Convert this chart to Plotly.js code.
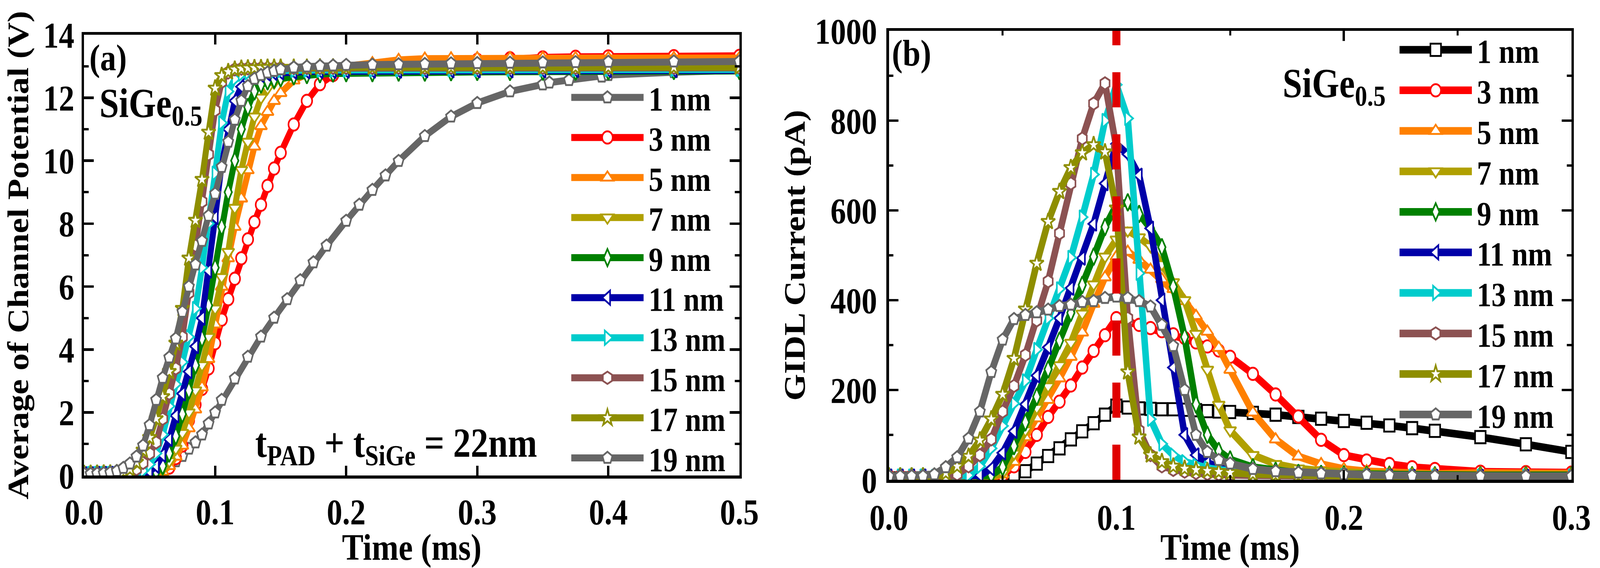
<!DOCTYPE html>
<html>
<head>
<meta charset="utf-8">
<script src="https://cdn.plot.ly/plotly-3.0.1.min.js"></script>
<style>
  html, body { margin: 0; padding: 0; background: #fff; width: 100%; height: 100%; overflow: hidden; }
  /* the chart is laid out small and blown up to the window, a bit narrower in x like the original */
  #wrap { position: absolute; left: 0; top: 0; width: 1593px; height: 485px; transform-origin: 0 0; }
</style>
</head>
<body>
<div id="wrap"><div id="chart"></div></div>
<script>
// ---- data (a): average channel potential (V) vs time (ms) ----
const timeA = [0, 0.005, 0.01, 0.015, 0.02, 0.025, 0.03, 0.035, 0.04, 0.045,
  0.05, 0.055, 0.06, 0.065, 0.07, 0.075, 0.08, 0.085, 0.09, 0.095,
  0.1, 0.105, 0.11, 0.115, 0.12, 0.125, 0.13, 0.135, 0.14, 0.145,
  0.15, 0.16, 0.17, 0.18, 0.19, 0.2, 0.22, 0.24, 0.26, 0.28,
  0.3, 0.325, 0.35, 0.375, 0.4, 0.45, 0.5];
const time1nmA = [0, 0.01, 0.02, 0.03, 0.04, 0.045, 0.05, 0.055, 0.06, 0.065,
  0.07, 0.075, 0.08, 0.085, 0.09, 0.095, 0.1, 0.105, 0.115, 0.125,
  0.135, 0.145, 0.155, 0.165, 0.175, 0.185, 0.2, 0.21, 0.22, 0.23,
  0.24, 0.26, 0.28, 0.3, 0.325, 0.35, 0.355, 0.37, 0.395, 0.4,
  0.45, 0.5];

const potential1 = [0.05, 0.05, 0.05, 0.06, 0.08, 0.1, 0.13, 0.17, 0.22, 0.32,
  0.45, 0.62, 0.85, 1.05, 1.3, 1.65, 2.0, 2.4, 3.08, 3.77,
  4.41, 5.01, 5.6, 6.2, 6.77, 7.3, 8.09, 8.6, 9.07, 9.53,
  9.99, 10.78, 11.4, 11.83, 12.2, 12.42, 12.48, 12.56, 12.67, 12.72,
  12.81, 12.87];
const potential3 = [0.05, 0.05, 0.05, 0.05, 0.05, 0.05, 0.05, 0.05, 0.05, 0.05,
  0.05, 0.06, 0.1, 0.25, 0.55, 0.95, 1.75, 2.25, 2.75, 3.4,
  4.2, 4.95, 5.6, 6.25, 6.9, 7.5, 8.05, 8.6, 9.2, 9.75,
  10.25, 11.15, 11.9, 12.43, 12.72, 12.85, 12.95, 13.0, 13.08, 13.15,
  13.2, 13.25, 13.28, 13.3, 13.31, 13.32, 13.33];
const potential5 = [0.05, 0.05, 0.06, 0.06, 0.06, 0.06, 0.06, 0.06, 0.06, 0.06,
  0.06, 0.07, 0.12, 0.3, 0.6, 0.95, 1.5, 2.1, 2.8, 3.7,
  4.8, 6.0, 6.9, 7.9, 8.8, 9.7, 10.45, 11.1, 11.55, 11.9,
  12.15, 12.55, 12.75, 12.88, 12.95, 13.0, 13.1, 13.2, 13.24, 13.25,
  13.26, 13.26, 13.26, 13.26, 13.26, 13.26, 13.26];
const potential7 = [0.05, 0.05, 0.06, 0.06, 0.06, 0.06, 0.06, 0.06, 0.06, 0.06,
  0.06, 0.08, 0.2, 0.45, 0.85, 1.35, 2.0, 2.7, 3.5, 4.4,
  5.3, 6.3, 7.1, 8.5, 9.7, 10.6, 11.4, 12.0, 12.3, 12.48,
  12.58, 12.7, 12.78, 12.84, 12.88, 12.9, 12.92, 12.93, 12.93, 12.94,
  12.94, 12.94, 12.95, 12.95, 12.95, 12.95, 12.95];
const potential9 = [0.05, 0.05, 0.06, 0.06, 0.06, 0.06, 0.06, 0.06, 0.06, 0.06,
  0.06, 0.12, 0.3, 0.7, 1.25, 1.95, 2.7, 3.5, 4.35, 5.4,
  6.6, 7.9, 9.0, 10.0, 11.0, 11.7, 12.2, 12.42, 12.52, 12.57,
  12.62, 12.68, 12.72, 12.75, 12.77, 12.78, 12.78, 12.8, 12.8, 12.81,
  12.82, 12.82, 12.83, 12.83, 12.84, 12.85, 12.85];
const potential11 = [0.05, 0.05, 0.06, 0.06, 0.06, 0.06, 0.06, 0.06, 0.07, 0.08,
  0.12, 0.3, 0.65, 1.15, 1.9, 2.6, 3.3, 4.1, 5.0, 6.5,
  8.2, 9.9, 11.0, 11.9, 12.35, 12.55, 12.65, 12.72, 12.76, 12.78,
  12.8, 12.82, 12.83, 12.84, 12.84, 12.85, 12.85, 12.85, 12.86, 12.86,
  12.86, 12.86, 12.86, 12.87, 12.87, 12.87, 12.87];
const potential13 = [0.05, 0.06, 0.06, 0.06, 0.06, 0.06, 0.07, 0.08, 0.1, 0.15,
  0.35, 0.7, 1.3, 2.2, 2.9, 3.6, 4.4, 5.3, 6.6, 8.0,
  9.6, 11.2, 12.2, 12.6, 12.75, 12.8, 12.83, 12.85, 12.86, 12.86,
  12.87, 12.87, 12.88, 12.88, 12.88, 12.88, 12.88, 12.89, 12.89, 12.89,
  12.89, 12.9, 12.9, 12.9, 12.9, 12.9, 12.9];
const potential15 = [0.05, 0.06, 0.06, 0.06, 0.07, 0.07, 0.08, 0.1, 0.2, 0.4,
  0.7, 1.05, 1.8, 2.6, 3.4, 4.4, 5.8, 7.3, 8.7, 10.2,
  11.6, 12.5, 12.8, 12.9, 12.92, 12.93, 12.93, 12.94, 12.94, 12.94,
  12.94, 12.95, 12.95, 12.95, 12.95, 12.95, 12.95, 12.95, 12.95, 12.95,
  12.95, 12.95, 12.95, 12.95, 12.95, 12.95, 12.95];
const potential17 = [0.05, 0.06, 0.06, 0.07, 0.07, 0.08, 0.12, 0.2, 0.42, 0.8,
  1.2, 1.8, 2.5, 3.3, 4.2, 5.3, 6.9, 8.1, 9.4, 10.9,
  12.3, 12.7, 12.82, 12.9, 12.93, 12.94, 12.95, 12.95, 12.96, 12.96,
  12.96, 12.96, 12.96, 12.97, 12.97, 12.97, 12.97, 12.97, 12.97, 12.97,
  12.97, 12.97, 12.97, 12.97, 12.97, 12.97, 12.97];
const potential19 = [0.05, 0.05, 0.06, 0.07, 0.09, 0.14, 0.24, 0.38, 0.6, 0.95,
  1.6, 2.4, 3.1, 3.75, 4.35, 5.2, 6.0, 6.7, 7.45, 8.25,
  8.95, 9.8, 10.6, 11.3, 11.9, 12.37, 12.6, 12.72, 12.8, 12.85,
  12.9, 12.96, 12.99, 13.01, 13.02, 13.04, 13.05, 13.06, 13.07, 13.09,
  13.1, 13.11, 13.12, 13.13, 13.14, 13.15, 13.15];

// ---- data (b): GIDL current (pA) vs time (ms) ----
const timeB = [0, 0.005, 0.01, 0.015, 0.02, 0.025, 0.03, 0.035, 0.04, 0.045,
  0.05, 0.055, 0.06, 0.065, 0.07, 0.075, 0.08, 0.085, 0.09, 0.095,
  0.1, 0.105, 0.11, 0.115, 0.12, 0.125, 0.13, 0.135, 0.14, 0.145,
  0.15, 0.16, 0.17, 0.18, 0.19, 0.2, 0.21, 0.22, 0.23, 0.24,
  0.26, 0.28, 0.3];

const current1 = [3, 3, 3, 3, 3, 3, 3, 3, 3, 4,
  7, 12, 19, 36, 53, 70, 90, 108, 126, 145,
  165, 161, 159, 158, 157, 157, 156, 155, 153, 152,
  151, 149, 145, 140, 136, 131, 127, 121, 115, 109,
  95, 79, 62];
const current3 = [8, 8, 8, 7, 7, 7, 7, 7, 7, 7,
  10, 30, 62, 100, 140, 174, 210, 250, 287, 322,
  360, 352, 345, 338, 331, 324, 316, 306, 297, 288,
  274, 236, 190, 141, 89, 55, 43, 35, 28, 24,
  18, 17, 16];
const current5 = [8, 8, 8, 8, 7, 7, 7, 7, 7, 7,
  12, 40, 95, 137, 178, 226, 274, 328, 392, 451,
  497, 508, 490, 468, 447, 425, 398, 365, 330, 294,
  245, 150, 90, 52, 35, 24, 19, 16, 14, 13,
  15, 15, 14];
const current7 = [8, 8, 8, 8, 7, 7, 7, 7, 7, 8,
  15, 58, 110, 160, 208, 255, 305, 370, 435, 497,
  535, 555, 540, 520, 480, 440, 400, 325, 245, 167,
  110, 55, 35, 25, 20, 16, 14, 12, 11, 10,
  9, 8, 8];
const current9 = [8, 8, 8, 8, 7, 7, 7, 7, 7, 10,
  28, 75, 128, 185, 246, 310, 372, 434, 497, 563,
  612, 618, 592, 560, 518, 430, 318, 168, 100, 64,
  45, 28, 20, 15, 13, 12, 11, 11, 10, 10,
  10, 10, 10];
const current11 = [8, 8, 8, 8, 7, 7, 7, 7, 10, 25,
  60, 108, 168, 232, 295, 360, 427, 494, 570, 660,
  748, 725, 678, 560, 400, 250, 100, 55, 38, 28,
  22, 16, 12, 10, 9, 8, 8, 7, 7, 7,
  7, 7, 7];
const current13 = [8, 8, 8, 8, 7, 7, 7, 10, 30, 70,
  120, 170, 220, 290, 360, 425, 495, 585, 680, 800,
  880, 805, 460, 135, 80, 55, 40, 32, 26, 22,
  19, 15, 12, 10, 9, 9, 8, 8, 8, 8,
  8, 8, 8];
const current15 = [8, 8, 8, 8, 7, 7, 12, 30, 55, 90,
  152, 209, 278, 355, 442, 549, 660, 760, 838, 883,
  740, 360, 110, 55, 30, 22, 18, 15, 13, 12,
  11, 10, 9, 9, 8, 8, 8, 8, 8, 8,
  8, 8, 8];
const current17 = [8, 8, 8, 8, 7, 15, 30, 52, 88, 135,
  190, 270, 380, 482, 575, 642, 695, 728, 746, 730,
  605, 240, 95, 55, 40, 30, 25, 22, 20, 18,
  16, 13, 11, 10, 9, 9, 8, 8, 8, 8,
  8, 8, 8];
const current19 = [8, 8, 8, 8, 12, 28, 50, 92, 152, 240,
  312, 358, 367, 373, 379, 387, 390, 396, 398, 405,
  408, 405, 398, 386, 345, 298, 200, 100, 62, 44,
  36, 24, 19, 16, 14, 12, 11, 10, 9, 8,
  8, 8, 8];

const padLabels = ['1 nm', '3 nm', '5 nm', '7 nm', '9 nm', '11 nm', '13 nm', '15 nm', '17 nm', '19 nm'];
const pulseEnd = 0.1; // ms, dashed marker in (b)

const potentials = [potential1, potential3, potential5, potential7, potential9,
  potential11, potential13, potential15, potential17, potential19];
const currents = [current1, current3, current5, current7, current9,
  current11, current13, current15, current17, current19];

// ---- styles ----
const colorsA = ['#666666', '#FF0000', '#FF8000', '#B0A000', '#008000', '#0000A8', '#00CCCC', '#8C5252', '#8E8E00', '#666666'];
const colorsB = ['#000000', '#FF0000', '#FF8000', '#B0A000', '#008000', '#0000A8', '#00CCCC', '#8C5252', '#8E8E00', '#666666'];
const symbolsA = ['pentagon', 'circle', 'triangle-up', 'triangle-down', 'diamond-tall', 'triangle-left', 'triangle-right', 'hexagon', 'star', 'pentagon'];
const symbolsB = ['square', 'circle', 'triangle-up', 'triangle-down', 'diamond-tall', 'triangle-left', 'triangle-right', 'hexagon', 'star', 'pentagon'];

const FONT = 'Liberation Serif, Times New Roman, serif';
const W = 4302, H = 1455; // reference picture size, positions below are in those pixels
const GW = 1593, GH = 485; // size the chart is laid out at

// fit the small layout to whatever the window really is
var wrap = document.getElementById('wrap');
var vw = window.innerWidth || W, vh = window.innerHeight || H;
wrap.style.transform = 'scale(' + (vw / GW) + ',' + (vh / GH) + ')';

function legendAt(px, py) {
  return {
    x: (px - 13.5) / W, y: 1 - py / H, xanchor: 'left', yanchor: 'middle',
    bgcolor: 'rgba(0,0,0,0)', borderwidth: 0, itemwidth: 72, tracegroupgap: 0,
    font: {family: FONT, size: 29, color: '#000', weight: 'bold'}
  };
}

function axis(extra) {
  return Object.assign({
    showline: true, linecolor: '#000', linewidth: 2.5, mirror: 'ticks',
    ticks: 'inside', tickcolor: '#000', tickwidth: 2.2, ticklen: 8.5,
    showgrid: false, zeroline: false, fixedrange: true,
    tickfont: {family: FONT, size: 31, color: '#000', weight: 'bold'}
  }, extra);
}

var layout = {
  width: GW, height: GH,
  margin: {l: 0, r: 0, t: 0, b: 0},
  paper_bgcolor: '#fff', plot_bgcolor: '#fff',
  showlegend: true,
  xaxis: axis({
    domain: [226 / W, 1988 / W], range: [0, 0.5], dtick: 0.1, tickformat: '.1f', anchor: 'y',
    ticklabelstandoff: 2,
    title: {text: 'Time (ms)', standoff: 8, font: {family: FONT, size: 32, color: '#000', weight: 'bold'}}
  }),
  yaxis: axis({
    domain: [1 - 1218 / H, 1 - 89 / H], range: [0, 14], dtick: 2, anchor: 'x', ticklen: 9.5,
    ticklabelstandoff: 1,
    minor: {ticks: 'inside', ticklen: 4.5, tickwidth: 2, tickcolor: '#000', dtick: 1},
    title: {text: 'Average of Channel Potential (V)', standoff: 6, font: {family: FONT, size: 29.5, color: '#000', weight: 'bold'}}
  }),
  xaxis2: axis({
    domain: [2390 / W, 4225 / W], range: [0, 0.3], dtick: 0.1, tickformat: '.1f', anchor: 'y2',
    ticklabelstandoff: 3,
    minor: {ticks: 'inside', ticklen: 4, tickwidth: 2, tickcolor: '#000', dtick: 0.05},
    title: {text: 'Time (ms)', standoff: 7, font: {family: FONT, size: 32, color: '#000', weight: 'bold'}}
  }),
  yaxis2: axis({
    domain: [1 - 1229 / H, 1 - 79 / H], range: [0, 1000], dtick: 200, anchor: 'x2', ticklen: 9.5,
    ticklabelstandoff: 3,
    minor: {ticks: 'inside', ticklen: 4.5, tickwidth: 2, tickcolor: '#000', dtick: 100},
    title: {text: 'GIDL Current (pA)', standoff: 1, font: {family: FONT, size: 29.5, color: '#000', weight: 'bold'}}
  }),
  shapes: [{
    type: 'line', xref: 'x2', yref: 'y2 domain', x0: pulseEnd, x1: pulseEnd, y0: 0, y1: 1,
    line: {color: '#E00000', width: 8, dash: '30px,23px'}, layer: 'above'
  }],
  annotations: [
    {text: '(a)', x: 235 / W, y: 1 - 86 / H, xanchor: 'left', yanchor: 'top'},
    {text: 'SiGe<sub>0.5</sub>', x: 262 / W, y: 1 - 200 / H, xanchor: 'left', yanchor: 'top', size: 35},
    {text: 't<sub>PAD</sub> + t<sub>SiGe</sub> = 22nm', x: 1066 / W, y: 1 - 1140 / H, xanchor: 'center', yanchor: 'middle', size: 35},
    {text: '(b)', x: 2392 / W, y: 1 - 76 / H, xanchor: 'left', yanchor: 'top'},
    {text: 'SiGe<sub>0.5</sub>', x: 3444 / W, y: 1 - 150 / H, xanchor: 'left', yanchor: 'top', size: 35}
  ].map(a => ({
    text: a.text, x: a.x, y: a.y, xref: 'paper', yref: 'paper', xanchor: a.xanchor, yanchor: a.yanchor,
    showarrow: false, font: {family: FONT, size: a.size || 32, color: '#000', weight: 'bold'}
  }))
};

var traces = [];
padLabels.forEach((name, i) => {
  var id = i === 0 ? 'legend' : 'legend' + (i + 1);
  traces.push({
    type: 'scatter', mode: 'lines+markers', name: name,
    x: i === 0 ? time1nmA : timeA, y: potentials[i], xaxis: 'x', yaxis: 'y',
    line: {color: colorsA[i], width: 6},
    marker: {symbol: symbolsA[i], size: 10.5, color: '#fff', line: {color: colorsA[i], width: 1.6}},
    legend: id
  });
  layout[id] = legendAt(1536, 250 + 102.6 * i);
});
padLabels.forEach((name, i) => {
  var id = 'legend' + (i + 11);
  traces.push({
    type: 'scatter', mode: 'lines+markers', name: name,
    x: timeB, y: currents[i], xaxis: 'x2', yaxis: 'y2',
    line: {color: colorsB[i], width: 6.5},
    marker: {symbol: symbolsB[i], size: 10.5, color: '#fff', line: {color: colorsB[i], width: 1.6}},
    legend: id
  });
  layout[id] = legendAt(3763, 128 + 103.8 * i);
});

Plotly.newPlot('chart', traces, layout, {displayModeBar: false, staticPlot: true});
</script>
</body>
</html>
